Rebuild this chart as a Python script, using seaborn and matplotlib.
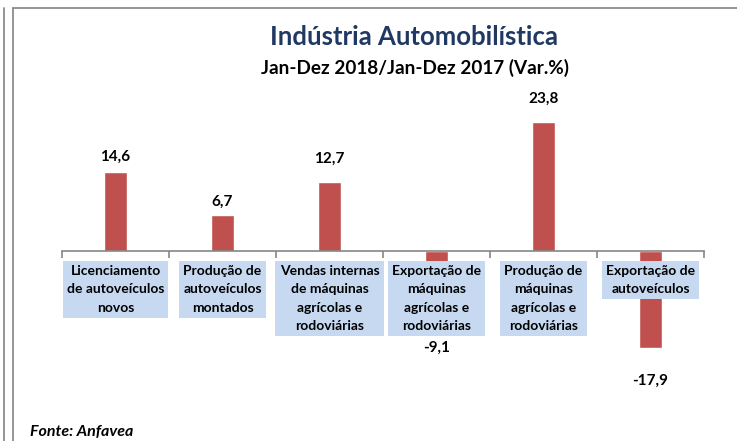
import seaborn as sns
import matplotlib.pyplot as plt
from matplotlib.lines import Line2D
import pandas as pd

# dados
categorias = [
    "Licenciamento\nde autoveículos\nnovos",
    "Produção de\nautoveículos\nmontados",
    "Vendas internas\nde máquinas\nagrícolas e\nrodoviárias",
    "Exportação de\nmáquinas\nagrícolas e\nrodoviárias",
    "Produção de\nmáquinas\nagrícolas e\nrodoviárias",
    "Exportação de\nautoveículos",
]
variacao = [14.6, 6.7, 12.7, -9.1, 23.8, -17.9]
rotulos = ["14,6", "6,7", "12,7", "-9,1", "23,8", "-17,9"]
# posicao dos rotulos (arrastados a mao no original)
pos_rotulos = [17.3, 9.0, 17.0, -17.9, 28.0, -24.0]

df = pd.DataFrame({"cat": categorias, "var": variacao})

sns.set_style("white")
plt.rcParams["font.family"] = ["Lato", "DejaVu Sans"]

fig = plt.figure(figsize=(7.37, 4.41), dpi=100)
W, H = 737, 441
ax = fig.add_axes([62 / W, (H - 400) / H, 642 / W, 300 / H])

sns.barplot(data=df, x="cat", y="var", color="#C0504D", saturation=1,
            width=0.22, ax=ax, zorder=2)

ax.set_xlim(-0.5, 5.5)
ax.set_ylim(-27.5, 27.85)
ax.set_xlabel("")
ax.set_ylabel("")
ax.set_yticks([])
ax.set_xticks([i - 0.5 for i in range(7)])
ax.set_xticklabels([])
ax.tick_params(axis="x", direction="out", length=5, color="#868686", width=1.2, bottom=True)
for s in ["top", "right", "left"]:
    ax.spines[s].set_visible(False)
ax.spines["bottom"].set_position(("data", 0))
ax.spines["bottom"].set_color("#868686")
ax.spines["bottom"].set_linewidth(1.2)
ax.spines["bottom"].set_zorder(3)

# rotulos de valor
for i, (r, y) in enumerate(zip(rotulos, pos_rotulos)):
    ax.text(i, y, r, ha="center", va="center", fontsize=11, fontweight="bold",
            color="#000000", zorder=5)

# rotulos das categorias em caixas
y_cat = (251 - 265) / 5.42
for i, c in enumerate(categorias):
    ax.text(i, y_cat, c, ha="center", va="top", fontsize=10, fontweight="bold",
            linespacing=1.63, color="#000000", zorder=6,
            bbox=dict(boxstyle="square,pad=0.3", fc="#C6D9F1", ec="none"))

fig.text(414 / W, 1 - 37 / H, "Indústria Automobilística", ha="center", va="center",
         fontsize=18.5, fontweight="bold", color="#1F3864")
fig.text(415 / W, 1 - 68 / H, "Jan-Dez 2018/Jan-Dez 2017 (Var.%)", ha="center",
         va="center", fontsize=13.6, fontweight="bold", color="#000000")
fig.text(30 / W, 1 - 432 / H, "Fonte: Anfavea", ha="left", va="center",
         fontsize=11.5, fontweight="bold", fontstyle="italic", color="#000000")

# moldura
fig.add_artist(Line2D([13 / W, 1], [1 - 8 / H, 1 - 8 / H], color="#8C8C8C", lw=1.3))
fig.add_artist(Line2D([13 / W, 13 / W], [0, 1 - 8 / H], color="#8C8C8C", lw=1.3))
fig.add_artist(Line2D([4 / W, 4 / W], [0, 1 - 8 / H], color="#8C8C8C", lw=1.3))

plt.savefig("out.png", dpi=100)
plt.close()
